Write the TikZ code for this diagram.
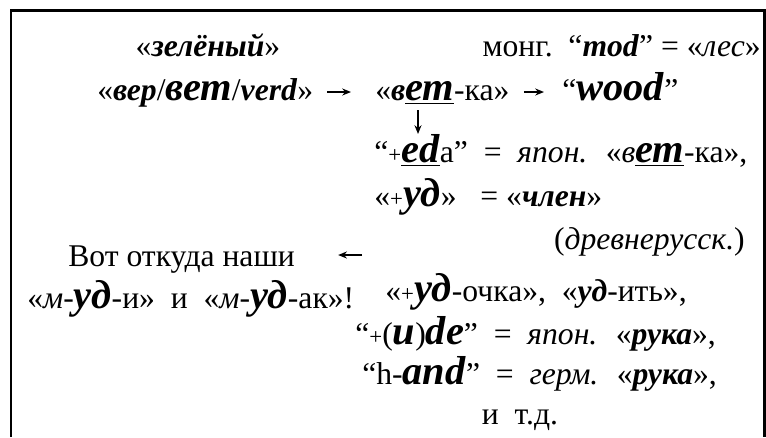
\documentclass[tikz,border=0pt]{standalone}
\usepackage{fontspec}
\setmainfont{Liberation Serif}
\usetikzlibrary{arrows.meta}

% жирный курсив и крупный жирный курсив
\newcommand{\bi}[1]{\textbf{\textit{#1}}}
\newcommand{\Bi}[1]{{\fontsize{23}{24}\selectfont\textbf{\textit{#1}}}}
\newcommand{\sml}[1]{{\fontsize{13}{14}\selectfont #1}}

\begin{document}
\begin{tikzpicture}[
    x=0.02cm, y=-0.02cm,
    word/.style={inner sep=0pt, font=\fontsize{18}{20}\selectfont},
    >={Stealth[length=5pt, width=4pt]},
    arr/.style={->, line width=1pt}
]
    \useasboundingbox (0,0) rectangle (766,437);
    % рамка (снизу открыта)
    \draw[line width=0.06cm] (11,437) |- (764,10.5) -- (764,437);

    % верхние строки
    \node[word, anchor=base] (zel) at (208,56) {«\bi{зелёный}»};
    \node[word, anchor=base east] (mong) at (761,56) {монг.~~“\bi{mod}” = «\textit{лес}»};
    \node[word, anchor=base west] (ver) at (97,100) {«\bi{вер}/\Bi{вет}/\bi{verd}»};
    \node[word, anchor=base west] (vetka) at (375,100) {«\bi{в}\underline{\Bi{ет}}-ка»};
    \node[word, anchor=base west] (wood) at (562,100) {“\Bi{wood}”};

    % правый столбец
    \node[word, anchor=base west] (eda) at (374,162) {“\sml{+}\underline{\Bi{ed}}a” ~=~ \textit{япон.}~ «\textit{в}\underline{\Bi{ет}}-ка»,};
    \node[word, anchor=base west] (ud) at (374,206) {«\sml{+}\Bi{уд}»~~ = «\bi{член}»};
    \node[word, anchor=base east] (drev) at (745,249) {(\textit{древнерусск.})};
    \node[word, anchor=base west] (udochka) at (385,301) {«\sml{+}\Bi{уд}-очка»,~ «\bi{уд}-ить»,};
    \node[word, anchor=base west] (ude) at (355,344) {“\sml{+}(\Bi{u})\Bi{de}” ~=~ \textit{япон.}~ «\bi{рука}»,};
    \node[word, anchor=base west] (hand) at (362,384) {“h-\Bi{and}” ~=~ \textit{герм.}~ «\bi{рука}»,};
    \node[word, anchor=base] (itd) at (520,424) {и~ т.д.};

    % левый столбец
    \node[word, anchor=base west] (vot) at (68,266) {Вот откуда наши};
    \node[word, anchor=base west] (mud) at (27,308) {«\textit{м}-\Bi{уд}-и»~ и~ «\textit{м}-\Bi{уд}-ак»!};

    % концы стрелок
    \coordinate (a1) at ([shift={(14,-8)}]ver.base east);
    \coordinate (a2) at ([shift={(-24,-8)}]vetka.base west);
    \coordinate (b1) at ([shift={(14,-8)}]vetka.base east);
    \coordinate (b2) at ([shift={(-18,-8)}]wood.base west);
    \coordinate (dx) at (418,0);
    \coordinate (d1) at ([shift={(0,10)}]dx |- vetka.base);
    \coordinate (d2) at ([shift={(0,-28)}]dx |- eda.base);
    \coordinate (from) at (362,255);

    % стрелки
    \draw[arr] (a1) -- (a2);
    \draw[arr] (b1) -- (b2);
    \draw[arr] (d1) -- (d2);
    \draw[arr, shorten >=0.86cm] (from) -- (vot.east |- from);
\end{tikzpicture}
\end{document}
